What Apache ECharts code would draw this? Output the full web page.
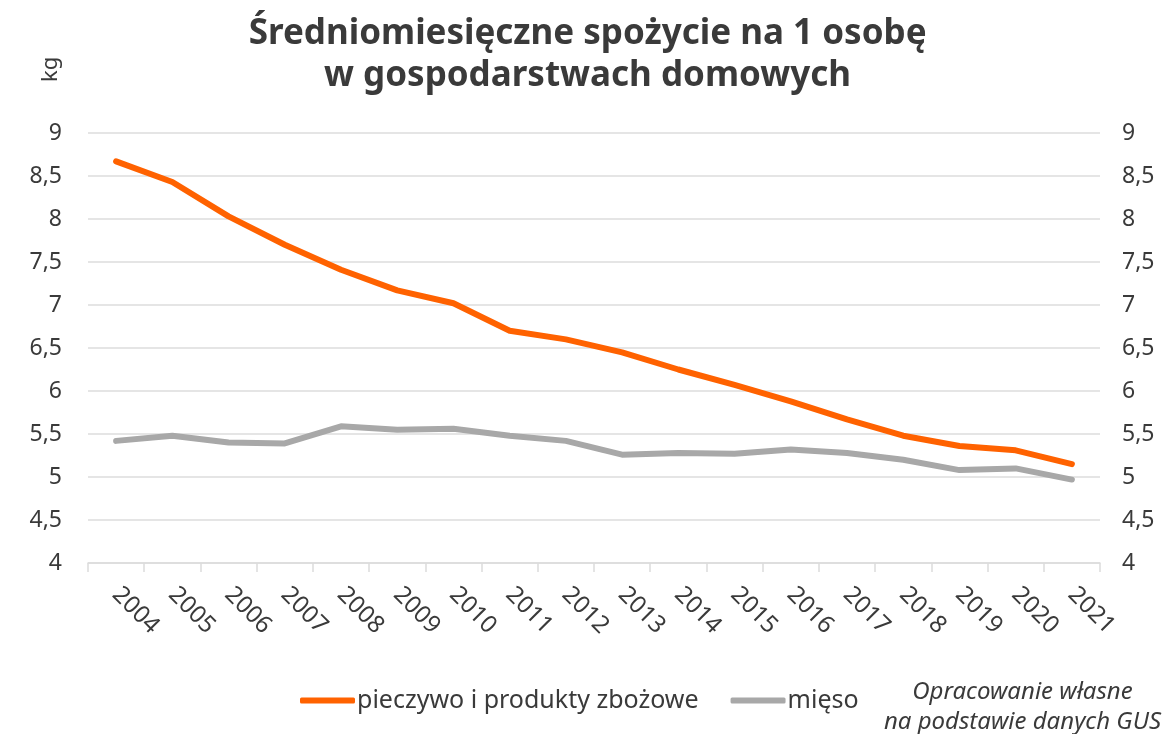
<!DOCTYPE html>
<html lang="pl">
<head>
    <meta charset="UTF-8">
    <title>Spożycie na 1 osobę</title>
    <script src="https://cdn.jsdelivr.net/npm/echarts@6/dist/echarts.min.js"></script>
    <style>
        html, body { margin: 0; padding: 0; background: #fff; }
        #main { width: 1175px; height: 734px; }
    </style>
</head>
<body>
<div id="main"></div>
<script type="text/javascript">
    // dane (kg na osobę miesięcznie)
    var years = ['2004', '2005', '2006', '2007', '2008', '2009', '2010', '2011', '2012',
        '2013', '2014', '2015', '2016', '2017', '2018', '2019', '2020', '2021'];
    var pieczywo = [8.67, 8.43, 8.03, 7.70, 7.41, 7.17, 7.02, 6.70, 6.60,
        6.45, 6.25, 6.07, 5.88, 5.67, 5.48, 5.36, 5.31, 5.15];
    var mieso = [5.42, 5.48, 5.40, 5.39, 5.59, 5.55, 5.56, 5.48, 5.42,
        5.26, 5.28, 5.27, 5.32, 5.28, 5.20, 5.08, 5.10, 4.97];
    var seriesNames = ['pieczywo i produkty zbożowe', 'mięso'];

    var textColor = '#3a3a3a';
    var gridColor = '#dcdcdc';
    var font = '"Noto Sans", "Open Sans", sans-serif';

    function plNumber(v) {
        return String(v).replace('.', ',');
    }

    var myChart = echarts.init(document.getElementById('main'));

    var yAxisCommon = {
        type: 'value',
        min: 4,
        max: 9,
        interval: 0.5,
        axisLine: {show: false},
        axisTick: {show: false},
        splitLine: {lineStyle: {color: gridColor, width: 1.5}},
        axisLabel: {
            color: textColor,
            fontSize: 23,
            fontFamily: font,
            formatter: plNumber
        }
    };

    var option = {
        backgroundColor: '#fff',
        animation: false,
        textStyle: {fontFamily: font},
        title: {
            text: 'Średniomiesięczne spożycie na 1 osobę\nw gospodarstwach domowych',
            left: 'center',
            top: 8,
            textStyle: {
                color: textColor,
                fontSize: 35,
                fontWeight: 'bold',
                lineHeight: 42,
                fontFamily: font
            }
        },
        grid: {left: 88, right: 75, top: 133, bottom: 171, containLabel: false},
        legend: {
            left: 295,
            top: 683,
            itemWidth: 55,
            itemHeight: 6,
            itemGap: 32,
            icon: 'roundRect',
            data: seriesNames,
            textStyle: {color: textColor, fontSize: 25, fontFamily: font, padding: [0, 0, 0, -3]}
        },
        xAxis: {
            type: 'category',
            data: years,
            boundaryGap: true,
            axisLine: {lineStyle: {color: gridColor, width: 1.5}},
            axisTick: {show: true, length: 9, lineStyle: {color: gridColor, width: 1.5}},
            axisLabel: {
                color: textColor,
                fontSize: 24,
                fontFamily: font,
                rotate: -45,
                margin: 28,
                interval: 0
            }
        },
        yAxis: [
            Object.assign({}, yAxisCommon, {
                position: 'left',
                axisLabel: Object.assign({}, yAxisCommon.axisLabel, {margin: 26})
            }),
            Object.assign({}, yAxisCommon, {
                position: 'right',
                splitLine: {show: false},
                axisLabel: Object.assign({}, yAxisCommon.axisLabel, {margin: 22})
            })
        ],
        series: [
            {
                name: seriesNames[0],
                type: 'line',
                data: pieczywo,
                showSymbol: false,
                symbol: 'none',
                itemStyle: {color: '#ff6200'},
                lineStyle: {color: '#ff6200', width: 6, cap: 'round', join: 'round'}
            },
            {
                name: seriesNames[1],
                type: 'line',
                data: mieso,
                showSymbol: false,
                symbol: 'none',
                itemStyle: {color: '#a8a8a8'},
                lineStyle: {color: '#a8a8a8', width: 6, cap: 'round', join: 'round'}
            }
        ],
        graphic: [
            {
                // jednostka przy osi
                type: 'text',
                x: 40,
                y: 82,
                rotation: Math.PI / 2,
                style: {
                    text: 'kg',
                    fill: textColor,
                    font: '22px ' + font,
                    textAlign: 'left',
                    textVerticalAlign: 'top'
                }
            },
            {
                type: 'text',
                right: 14,
                top: 677,
                style: {
                    text: 'Opracowanie własne\nna podstawie danych GUS',
                    fill: textColor,
                    font: 'italic 24px ' + font,
                    lineHeight: 30,
                    textAlign: 'center'
                }
            }
        ]
    };

    myChart.setOption(option);
</script>
</body>
</html>
